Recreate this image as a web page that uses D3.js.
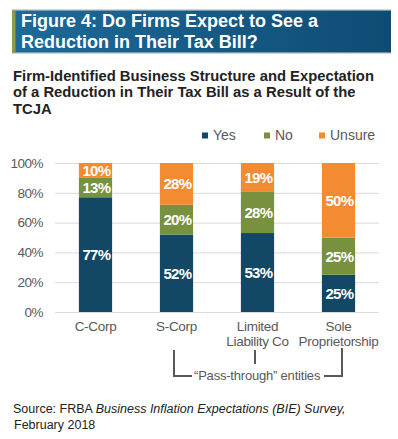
<!DOCTYPE html>
<html>
<head>
<meta charset="utf-8">
<script src="https://cdn.jsdelivr.net/npm/d3@7"></script>
<style>
	body { margin: 0; background: #fff; }
	svg { display: block; font-family: Arial, 'Liberation Sans', sans-serif; }
</style>
</head>
<body>
<svg id="chart" width="398" height="439"></svg>
<script>
var CATEGORIES = [['C-Corp'], ['S-Corp'], ['Limited', 'Liability Co'], ['Sole', 'Proprietorship']];
var SERIES = ['Yes', 'No', 'Unsure'];
var YES = [77, 52, 53, 25];
var NO = [13, 20, 28, 25];
var UNSURE = [10, 28, 19, 50];
var TICKS = [0, 20, 40, 60, 80, 100];
var COLORS = ['#134766', '#77913f', '#f38b32'];

CHART = {
	init: function() {
		var svg = d3.select('#chart');
		var left = 55, right = 379, top = 163, bottom = 312;

		// banner
		var grad = svg.append('defs').append('linearGradient')
			.attr('id', 'banner-gradient')
			.attr('x1', 0).attr('x2', '100%').attr('y1', 0).attr('y2', 0);
		grad.append('stop').attr('offset', 0).attr('stop-color', '#1e6a99');
		grad.append('stop').attr('offset', 1).attr('stop-color', '#0e4c73');

		svg.append('rect').attr('x', 12).attr('y', 9).attr('width', 379).attr('height', 45).attr('fill', '#d6d6d6');
		svg.append('rect').attr('x', 12).attr('y', 10.5).attr('width', 379).attr('height', 42).attr('fill', 'url(#banner-gradient)');
		svg.append('rect').attr('x', 12).attr('y', 10.5).attr('width', 3.5).attr('height', 42).attr('fill', '#8c9a4f');

		svg.selectAll('.banner-text')
			.data(['Figure 4: Do Firms Expect to See a', 'Reduction in Their Tax Bill?'])
			.enter()
			.append('text')
			.attr('x', 21)
			.attr('y', function (d, i) { return 27 + i * 21; })
			.attr('fill', '#fff')
			.attr('font-size', 18)
			.attr('font-weight', 'bold')
			.text(function (d) { return d; });

		svg.selectAll('.subtitle')
			.data(['Firm-Identified Business Structure and Expectation', 'of a Reduction in Their Tax Bill as a Result of the', 'TCJA'])
			.enter()
			.append('text')
			.attr('x', 13)
			.attr('y', function (d, i) { return 80.5 + i * 16.5; })
			.attr('fill', '#222')
			.attr('font-size', 14.8)
			.attr('font-weight', 'bold')
			.text(function (d) { return d; });

		// legend
		var legendX = [202, 264, 319];
		var legend = svg.selectAll('.legend')
			.data(SERIES)
			.enter()
			.append('g')
			.attr('transform', function (d, i) { return 'translate(' + legendX[i] + ',0)'; });
		legend.append('rect')
			.attr('y', 132.5).attr('width', 6).attr('height', 6)
			.attr('fill', function (d, i) { return COLORS[i]; });
		legend.append('text')
			.attr('x', 11).attr('y', 140)
			.attr('font-size', 14)
			.attr('fill', '#595959')
			.text(function (d) { return d; });

		var x = d3.scaleBand()
			.domain(d3.range(CATEGORIES.length))
			.range([left, right])
			.paddingInner(0.59)
			.paddingOuter(0.295);
		var y = d3.scaleLinear().domain([0, 100]).range([bottom, top]);

		// gridlines + tick labels
		svg.append('g')
			.attr('transform', 'translate(' + left + ',0)')
			.call(d3.axisLeft(y).tickValues(TICKS).tickSize(left - right).tickFormat(function (d) { return d + '%'; }))
			.call(function (g) {
				g.select('.domain').remove();
				g.selectAll('.tick line').attr('stroke', '#d9d9d9');
				g.selectAll('.tick text')
					.attr('x', -12)
					.attr('fill', '#595959')
					.attr('font-size', 13.5)
					.attr('letter-spacing', '-0.5')
					.attr('font-family', null);
			});

		var rows = CATEGORIES.map(function (c, i) {
			return { i: i, Yes: YES[i], No: NO[i], Unsure: UNSURE[i] };
		});
		var stacked = d3.stack().keys(SERIES)(rows);

		var layers = svg.selectAll('.layer')
			.data(stacked)
			.enter()
			.append('g')
			.attr('fill', function (d, i) { return COLORS[i]; });

		layers.selectAll('rect')
			.data(function (d) { return d; })
			.enter()
			.append('rect')
			.attr('x', function (d) { return x(d.data.i); })
			.attr('width', x.bandwidth())
			.attr('y', function (d) { return y(d[1]); })
			.attr('height', function (d) { return y(d[0]) - y(d[1]); });

		layers.selectAll('text')
			.data(function (d) { return d; })
			.enter()
			.append('text')
			.attr('x', function (d) { return x(d.data.i) + x.bandwidth() / 2 + 1; })
			.attr('y', function (d) { return (y(d[0]) + y(d[1])) / 2; })
			.attr('dy', '0.36em')
			.attr('text-anchor', 'middle')
			.attr('fill', '#fff')
			.attr('font-size', 15)
			.attr('font-weight', 'bold')
			.attr('letter-spacing', '-0.6')
			.text(function (d) { return (d[1] - d[0]) + '%'; });

		// category labels
		svg.selectAll('.cat')
			.data(CATEGORIES)
			.enter()
			.append('text')
			.attr('text-anchor', 'middle')
			.attr('fill', '#595959')
			.attr('font-size', 13.5)
			.attr('letter-spacing', '-0.3')
			.selectAll('tspan')
			.data(function (d, i) { return d.map(function (t) { return { t: t, i: i }; }); })
			.enter()
			.append('tspan')
			.attr('x', function (d) { return x(d.i) + x.bandwidth() / 2; })
			.attr('y', function (d, j) { return 331 + j * 15; })
			.text(function (d) { return d.t; });

		// pass-through bracket
		var cx = function (i) { return x(i) + x.bandwidth() / 2; };
		var bracket = svg.append('g')
			.attr('stroke', '#595959')
			.attr('stroke-width', 2)
			.attr('fill', 'none');
		bracket.append('path').attr('d', 'M' + (cx(1) - 2.5) + ',350V376H192');
		bracket.append('path').attr('d', 'M324,376H' + (cx(3) + 3.5) + 'V348');
		bracket.append('path').attr('d', 'M' + (cx(2) - 2.5) + ',350V364');
		svg.append('text')
			.attr('x', 194).attr('y', 380)
			.attr('fill', '#595959')
			.attr('font-size', 13)
			.attr('letter-spacing', '-0.2')
			.text('\u201cPass-through\u201d entities');

		// source
		var src = svg.append('text')
			.attr('x', 13).attr('y', 413)
			.attr('fill', '#222')
			.attr('font-size', 12.5);
		src.append('tspan').text('Source: FRBA ');
		src.append('tspan').attr('font-style', 'italic').text('Business Inflation Expectations (BIE) Survey,');
		svg.append('text')
			.attr('x', 14).attr('y', 429)
			.attr('fill', '#222')
			.attr('font-size', 12.5)
			.text('February 2018');
	}
};

CHART.init();
</script>
</body>
</html>
